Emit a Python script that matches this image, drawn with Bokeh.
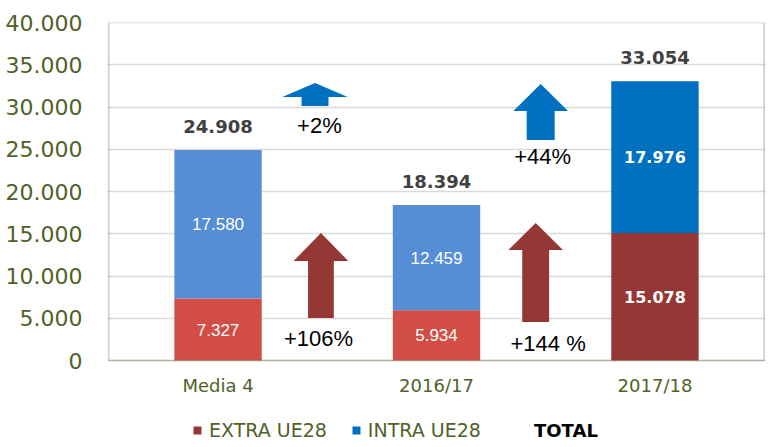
from bokeh.plotting import figure
from bokeh.models import (ColumnDataSource, Range1d, FixedTicker, Legend, LegendItem,
                          BoxAnnotation)
from bokeh.embed import file_html
from bokeh.resources import INLINE

# ---- data ----
categories = ["Media 4", "2016/17", "2017/18"]
extra_ue28 = [7327, 5934, 15078]
intra_ue28 = [17580, 12459, 17976]
totals = [24908, 18394, 33054]
y_ticks = [0, 5000, 10000, 15000, 20000, 25000, 30000, 35000, 40000]

# annotations (percent changes with arrows), data coordinates
pct_text = ["+2%", "+106%", "+44%", "+144 %"]
pct_x = [0.964, 0.960, 1.986, 2.011]
pct_y = [27869, 2580, 24106, 2012]
# arrows: center x, head half width, shaft half width, bottom, head base, tip
arrow_cx = [0.944, 0.971, 1.977, 1.954]
arrow_head_hw = [0.150, 0.125, 0.125, 0.125]
arrow_shaft_hw = [0.0616, 0.059, 0.064, 0.0616]
arrow_bottom = [30118, 5030, 26095, 4556]
arrow_base = [31183, 11775, 29527, 13077]
arrow_tip = [32840, 15089, 32722, 16272]
arrow_colors = ["#0070C0", "#953735", "#0070C0", "#953735"]

def fmt(v):
    return f"{v:,}".replace(",", ".")

GREEN = "#4F6228"
xs = [i + 0.5 for i in range(len(categories))]
stack_top = [e + i for e, i in zip(extra_ue28, intra_ue28)]

# layout: plot box 338px tall for 0..40000, extra 87px below for category labels + legend
Y_MAX = 40000
BOX_PX, BELOW_PX = 338, 87
y_min = -Y_MAX * BELOW_PX / BOX_PX

p = figure(frame_width=658, frame_height=BOX_PX + BELOW_PX, output_backend="svg",
           toolbar_location=None, x_axis_location=None,
           x_range=Range1d(-0.006, 3.006), y_range=Range1d(y_min, Y_MAX),
           min_border_left=107, min_border_right=1, min_border_top=22, min_border_bottom=0)
p.background_fill_color = "white"
p.border_fill_color = "white"
p.outline_line_color = None

p.xgrid.grid_line_color = None
p.ygrid.grid_line_color = "#D9D9D9"
p.ygrid.grid_line_width = 1.5

p.yaxis.ticker = FixedTicker(ticks=y_ticks)
p.yaxis.major_label_overrides = {t: fmt(t) for t in y_ticks}
p.yaxis.axis_line_color = None
p.yaxis.major_tick_line_color = None
p.yaxis.minor_tick_line_color = None
p.yaxis.major_tick_out = 0
p.yaxis.major_tick_in = 0
p.yaxis.minor_tick_out = 0
p.yaxis.major_label_text_color = GREEN
p.yaxis.major_label_text_font = "DejaVu Sans"
p.yaxis.major_label_text_font_size = "22px"
p.yaxis.major_label_standoff = 25

# plot-area border
p.add_layout(BoxAnnotation(left=0, right=3, bottom=0, top=Y_MAX, fill_alpha=0,
                           line_color=GREEN, line_width=1.5, level="overlay"))

src = ColumnDataSource(dict(
    x=xs, extra=extra_ue28, top=stack_top,
    extra_color=["#D24E45", "#D24E45", "#953735"],
    intra_color=["#558ED5", "#558ED5", "#0070C0"],
))
r_extra = p.vbar(x="x", bottom=0, top="extra", width=0.4, fill_color="extra_color",
                 line_color=None, source=src)
r_intra = p.vbar(x="x", bottom="extra", top="top", width=0.4, fill_color="intra_color",
                 line_color=None, source=src)

# category labels under the plot box
cat = ColumnDataSource(dict(x=xs, y=[0] * len(xs), t=categories))
p.text(x="x", y="y", text="t", source=cat, text_color=GREEN, text_align="center",
       text_baseline="middle", y_offset=24.5, text_font={"value": "DejaVu Sans"},
       text_font_size="18px")

# segment labels
mid_extra = [e / 2 for e in extra_ue28]
mid_intra = [e + i / 2 for e, i in zip(extra_ue28, intra_ue28)]
reg = ColumnDataSource(dict(x=xs[:2] * 2, y=mid_extra[:2] + mid_intra[:2],
                            t=[fmt(v) for v in extra_ue28[:2] + intra_ue28[:2]]))
p.text(x="x", y="y", text="t", source=reg, text_color="white", text_align="center",
       text_baseline="middle", text_font={"value": "Liberation Sans"}, text_font_size="17px")
bold = ColumnDataSource(dict(x=xs[2:] * 2, y=mid_extra[2:] + mid_intra[2:],
                             t=[fmt(v) for v in extra_ue28[2:] + intra_ue28[2:]]))
p.text(x="x", y="y", text="t", source=bold, text_color="white", text_align="center",
       text_baseline="middle", text_font={"value": "DejaVu Sans"}, text_font_style="bold",
       text_font_size="16px")

# totals
tot = ColumnDataSource(dict(x=xs, y=totals, t=[fmt(v) for v in totals]))
p.text(x="x", y="y", text="t", source=tot, text_color="#404040", text_align="center",
       text_baseline="middle", y_offset=-24, text_font={"value": "DejaVu Sans"},
       text_font_style="bold", text_font_size="18px")

# arrows
ax_list, ay_list = [], []
for cx, hh, sh, b, hb, tp in zip(arrow_cx, arrow_head_hw, arrow_shaft_hw, arrow_bottom, arrow_base, arrow_tip):
    ax_list.append([cx - sh, cx - sh, cx - hh, cx, cx + hh, cx + sh, cx + sh])
    ay_list.append([b, hb, hb, tp, hb, hb, b])
p.patches(xs=ax_list, ys=ay_list, fill_color=arrow_colors, line_color=None)

pct = ColumnDataSource(dict(x=pct_x, y=pct_y, t=pct_text))
p.text(x="x", y="y", text="t", source=pct, text_color="black", text_align="center",
       text_baseline="middle", text_font={"value": "Liberation Sans"}, text_font_size="22px")

# legend
legend = Legend(items=[LegendItem(label="EXTRA UE28", renderers=[r_extra], index=2),
                       LegendItem(label="INTRA UE28", renderers=[r_intra], index=2)],
                orientation="horizontal", location=(85, 6), border_line_color=None,
                background_fill_alpha=0, padding=0, margin=0, spacing=24, label_standoff=7,
                glyph_width=10, glyph_height=10, label_text_font="DejaVu Sans",
                label_text_font_size="19px", label_text_color=GREEN)
p.add_layout(legend)
legend_total = Legend(items=[LegendItem(label="TOTAL", renderers=[r_extra], index=2)],
                      orientation="horizontal", location=(427, 6), border_line_color=None,
                      background_fill_alpha=0, padding=0, margin=0, label_standoff=0,
                      glyph_width=0, glyph_height=10, label_text_font="DejaVu Sans",
                      label_text_font_style="bold", label_text_font_size="18px",
                      label_text_color="black")
p.add_layout(legend_total)

open("out.html", "w").write(file_html(p, INLINE))
